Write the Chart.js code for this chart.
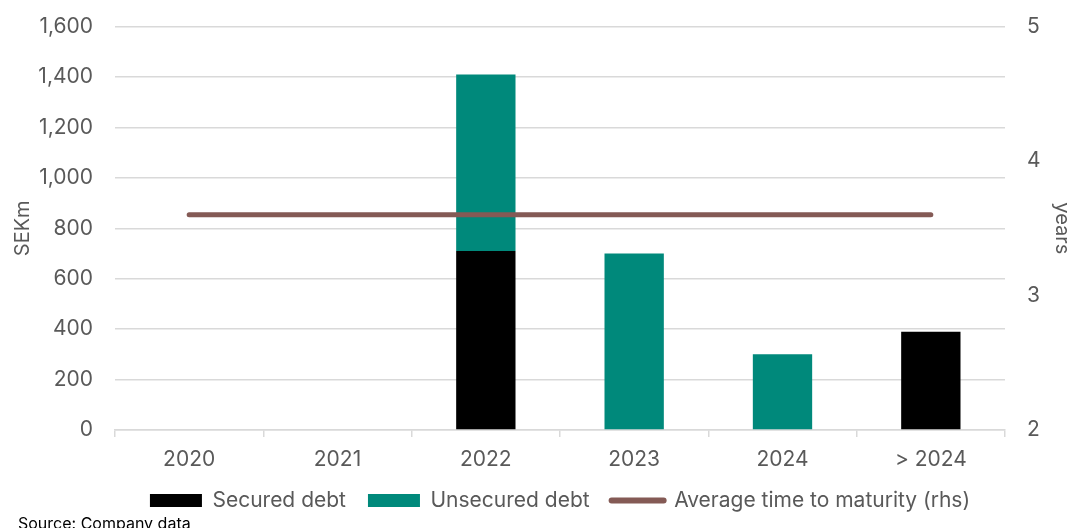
<!DOCTYPE html>
<html>
<head>
<meta charset="utf-8">
<script src="https://cdn.jsdelivr.net/npm/chart.js@4/dist/chart.umd.min.js"></script>
<style>
  html, body { margin: 0; padding: 0; background: #fff; }
  #wrap { width: 1069px; height: 528px; }
</style>
</head>
<body>
<div id="wrap"><canvas id="debt"></canvas></div>
<script>
// maturity profile, SEKm per year
const categories = ['2020', '2021', '2022', '2023', '2024', '> 2024']
const securedDebt = [null, null, 710, null, null, 390]
const unsecuredDebt = [null, null, 700, 700, 300, null]
// average time to maturity, years (right axis)
const avgMaturity = [3.6, 3.6, 3.6, 3.6, 3.6, 3.6]

const GREY = '#595959'
const GRID = '#d9d9d9'
const FONT = 'Inter'

// footnote under the legend
const sourceNote = {
  id: 'sourceNote',
  afterDraw(chart){
    const ctx = chart.ctx
    ctx.save()
    ctx.font = `16px ${FONT}`
    ctx.fillStyle = '#000'
    ctx.textBaseline = 'alphabetic'
    ctx.fillText('Source: Company data', 18, 529)
    ctx.restore()
  }
}

const ctx = document.getElementById('debt').getContext('2d')
new Chart(ctx, {
  type: 'bar',
  data: {
    labels: categories,
    datasets: [
      {label: 'Secured debt', data: securedDebt, backgroundColor: '#000000', yAxisID: 'y', order: 1},
      {label: 'Unsecured debt', data: unsecuredDebt, backgroundColor: '#00897b', yAxisID: 'y', order: 1},
      {label: 'Average time to maturity (rhs)', type: 'line', data: avgMaturity, yAxisID: 'y1',
        borderColor: '#845a55', borderWidth: 5, borderCapStyle: 'round', pointRadius: 0, order: 0}
    ]
  },
  options: {
    responsive: true,
    maintainAspectRatio: false,
    animation: false,
    categoryPercentage: 1,
    barPercentage: 0.4,
    layout: {padding: {top: 0, left: 0, right: 0, bottom: 7}},
    scales: {
      x: {
        stacked: true,
        grid: {drawOnChartArea: false, drawTicks: true, tickLength: 7, color: GRID, lineWidth: 1.5},
        border: {color: GRID, width: 1.5},
        ticks: {color: GREY, font: {family: FONT, size: 21, lineHeight: 1}, padding: 12},
        afterFit(scale){ scale.height = 38 }
      },
      y: {
        stacked: true,
        position: 'left',
        min: 0, max: 1600,
        grid: {color: GRID, lineWidth: 1.5, tickLength: 8, tickColor: 'rgba(0,0,0,0)'},
        border: {display: false},
        ticks: {stepSize: 200, color: GREY, font: {family: FONT, size: 21}, padding: 14,
          callback: v => v.toLocaleString('en-US')},
        title: {display: true, text: 'SEKm', color: GREY, font: {family: FONT, size: 20}, padding: {top: 11, bottom: 0}},
        afterFit(scale){ scale.width = 115 }
      },
      y1: {
        position: 'right',
        min: 2, max: 5,
        grid: {drawOnChartArea: false, tickLength: 8, tickColor: 'rgba(0,0,0,0)'},
        border: {display: false},
        ticks: {stepSize: 1, color: GREY, font: {family: FONT, size: 21}, padding: 14},
        title: {display: true, text: 'years', color: GREY, font: {family: FONT, size: 20, lineHeight: 1}, padding: {top: -3, bottom: 0}},
        afterFit(scale){ scale.width = 64 }
      }
    },
    plugins: {
      tooltip: {enabled: false},
      legend: {
        position: 'bottom',
        fullSize: false,
        labels: {
          usePointStyle: true,
          pointStyleWidth: 52,
          boxHeight: 13,
          padding: 22,
          color: GREY,
          font: {family: FONT, size: 21},
          generateLabels(chart){
            return chart.data.datasets.map((ds, i) => {
              const isLine = ds.type === 'line'
              return {
                text: ds.label,
                datasetIndex: i,
                fillStyle: isLine ? ds.borderColor : ds.backgroundColor,
                strokeStyle: isLine ? ds.borderColor : ds.backgroundColor,
                lineWidth: isLine ? 6 : 0,
                lineCap: 'round',
                pointStyle: isLine ? 'line' : 'rect',
                fontColor: GREY,
                hidden: false
              }
            })
          }
        }
      }
    }
  },
  plugins: [sourceNote]
})
</script>
</body>
</html>
